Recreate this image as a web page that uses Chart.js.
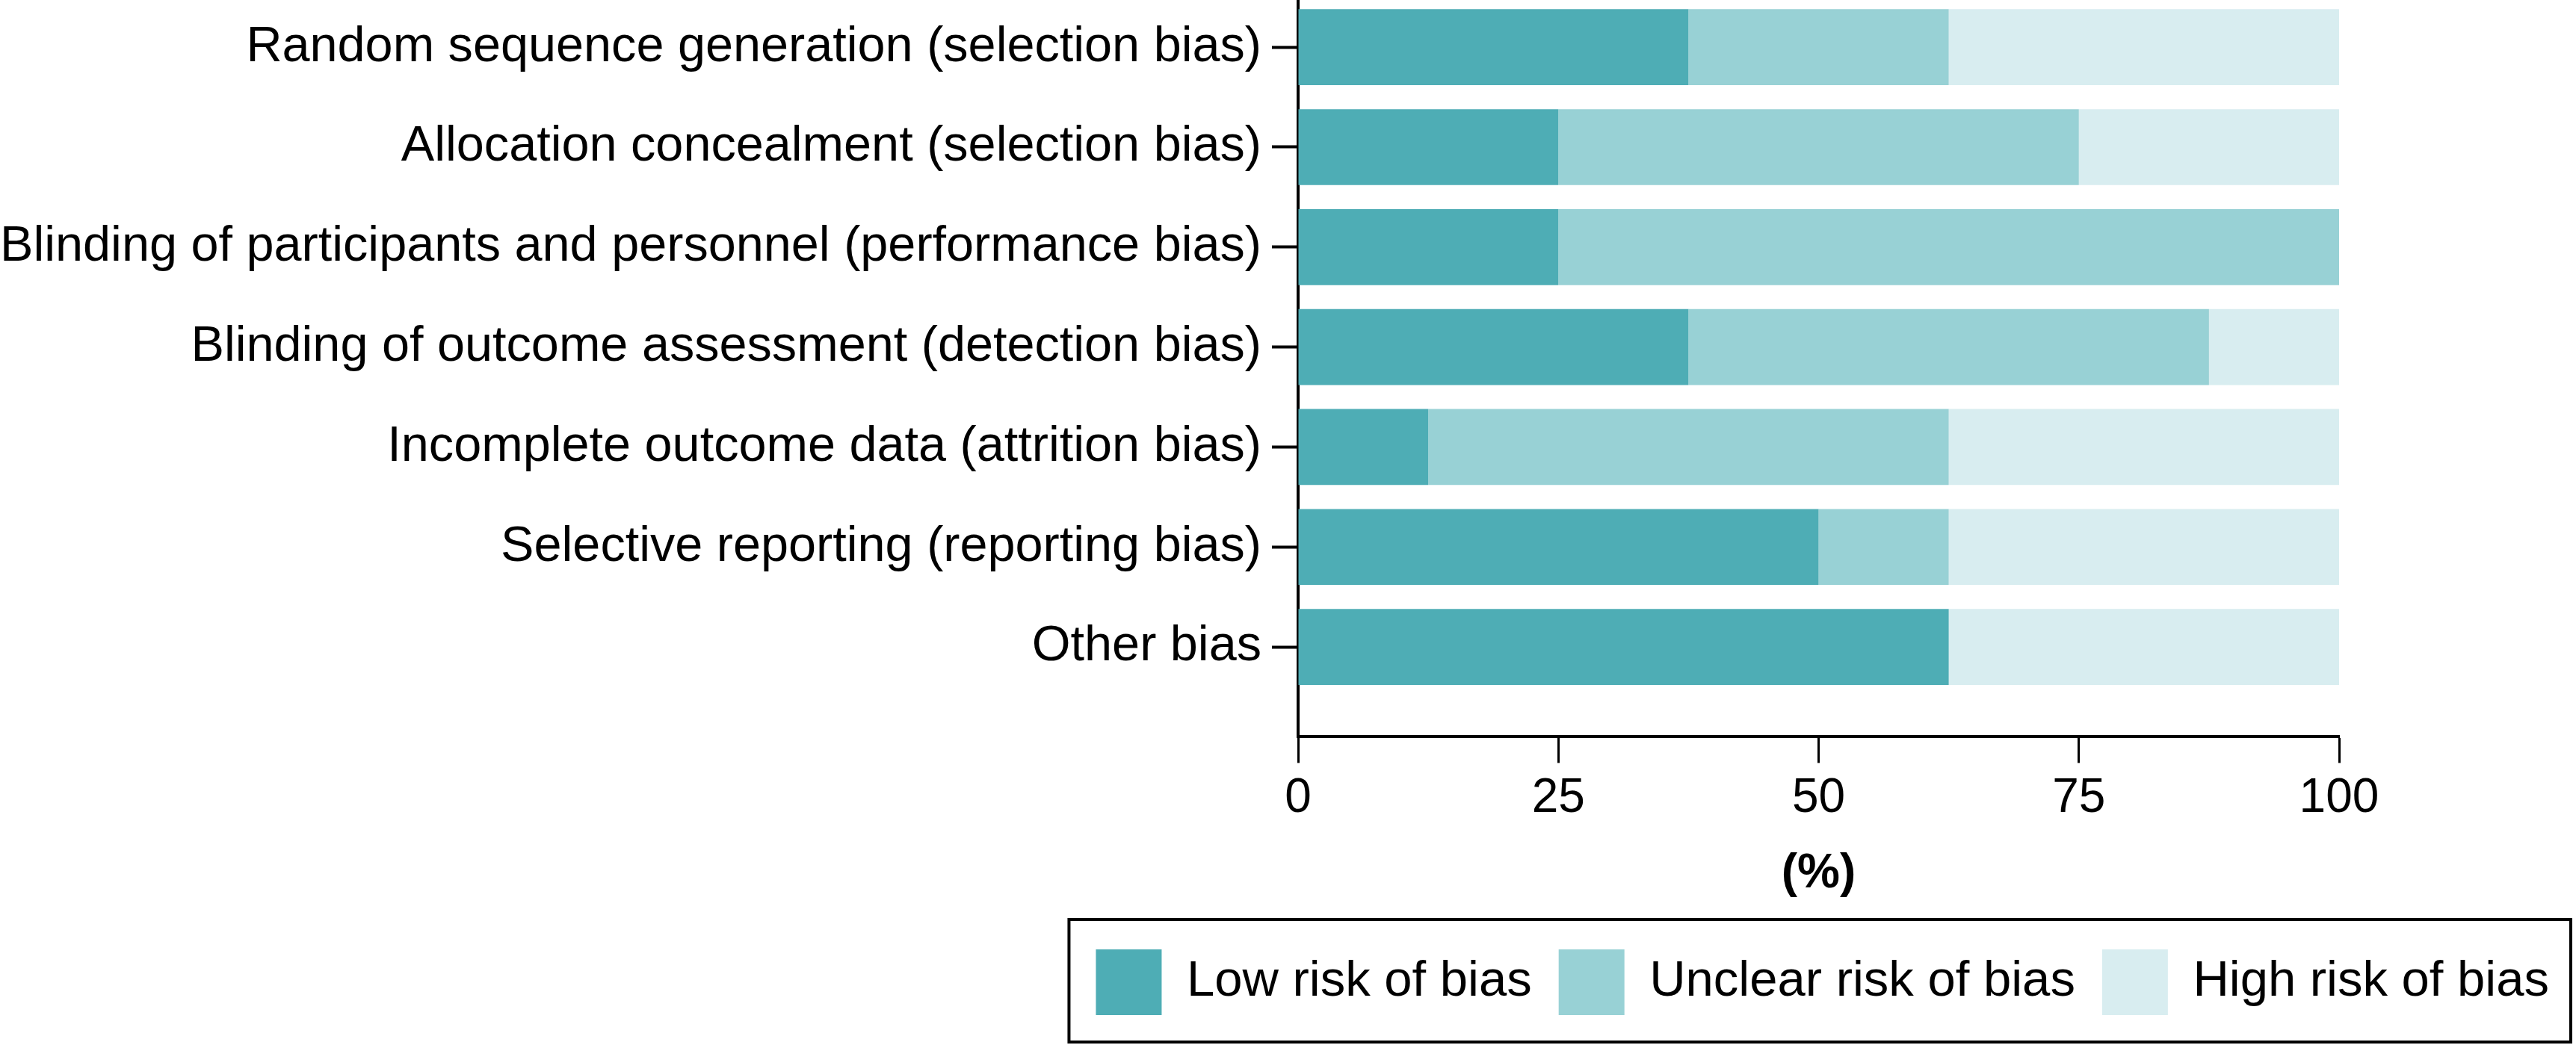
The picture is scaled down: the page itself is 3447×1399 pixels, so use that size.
<!DOCTYPE html>
<html>
<head>
<meta charset="utf-8">
<script src="https://cdn.jsdelivr.net/npm/chart.js@4"></script>
<style>
  html, body { margin: 0; padding: 0; background: #fff; }
  #wrap { width: 3447px; height: 1399px; }
</style>
</head>
<body>
<div id="wrap"><canvas id="chart" width="3447" height="1399"></canvas></div>
<script>
// risk of bias domains, top to bottom
let domains = [
  "Random sequence generation (selection bias)",
  "Allocation concealment (selection bias)",
  "Blinding of participants and personnel (performance bias)",
  "Blinding of outcome assessment (detection bias)",
  "Incomplete outcome data (attrition bias)",
  "Selective reporting (reporting bias)",
  "Other bias",
];
// percentages per domain
let lowRisk = [37.5, 25, 25, 37.5, 12.5, 50, 62.5];
let unclearRisk = [25, 50, 75, 50, 50, 12.5, 0];
let highRisk = [37.5, 25, 0, 12.5, 37.5, 37.5, 37.5];
let xTicks = [0, 25, 50, 75, 100];

let labelFont = { family: "'Liberation Sans', Arial, sans-serif", size: 66.6 };
let tickFont = { family: "'Liberation Sans', Arial, sans-serif", size: 64 };
let legendFont = { family: "'Liberation Sans', Arial, sans-serif", size: 67 };

function toPoints(values) {
  return values.map((v, i) => ({ x: v, y: i }));
}

// frame round the legend
let legendBorder = {
  id: "legendBorder",
  afterDraw(chart) {
    let boxes = chart.legend.legendHitBoxes;
    if (!boxes || !boxes.length) return;
    let first = boxes[0];
    let last = boxes[boxes.length - 1];
    let left = first.left - 36;
    let right = last.left + last.width + 29;
    let top = first.top - 40;
    let ctx = chart.ctx;
    ctx.save();
    ctx.strokeStyle = "#000";
    ctx.lineWidth = 4;
    ctx.strokeRect(left, top, right - left, 164);
    ctx.restore();
  },
};

let chart = new Chart(document.getElementById("chart"), {
  type: "bar",
  data: {
    datasets: [
      { label: "Low risk of bias", data: toPoints(lowRisk), backgroundColor: "#4eadb5" },
      { label: "Unclear risk of bias", data: toPoints(unclearRisk), backgroundColor: "#98d1d5" },
      { label: "High risk of bias", data: toPoints(highRisk), backgroundColor: "#d8edf0" },
    ],
  },
  plugins: [legendBorder],
  options: {
    indexAxis: "y",
    responsive: false,
    animation: false,
    devicePixelRatio: 1,
    layout: { padding: { top: 0, left: 0, right: 0, bottom: 30 } },
    datasets: { bar: { categoryPercentage: 1, barPercentage: 0.76, borderWidth: 0 } },
    scales: {
      x: {
        type: "linear",
        stacked: true,
        min: 0,
        max: 100,
        afterBuildTicks: (axis) => {
          axis.ticks = xTicks.map((v) => ({ value: v }));
        },
        afterFit: (axis) => {
          axis.paddingRight = 317;
        },
        grid: { drawOnChartArea: false, drawTicks: true, tickLength: 35, tickWidth: 3, tickColor: "#000" },
        border: { display: true, width: 4, color: "#000" },
        ticks: { font: tickFont, color: "#000", padding: 10, maxRotation: 0 },
        title: {
          display: true,
          text: "(%)",
          color: "#000",
          font: { family: "'Liberation Sans', Arial, sans-serif", size: 64, weight: "bold" },
          padding: { top: 14, bottom: 26 },
        },
      },
      y: {
        type: "linear",
        stacked: true,
        reverse: true,
        offset: false,
        min: -0.472,
        max: 6.899,
        afterBuildTicks: (axis) => {
          axis.ticks = domains.map((_, i) => ({ value: i }));
        },
        afterFit: (axis) => {
          // labels are wider than half the canvas
          axis.width = 1737;
          axis.paddingTop = 0;
          axis.paddingBottom = 0;
        },
        grid: { offset: false, drawOnChartArea: false, drawTicks: true, tickLength: 35, tickWidth: 4, tickColor: "#000" },
        border: { display: true, width: 4, color: "#000" },
        ticks: {
          font: labelFont,
          color: "#000",
          padding: 14,
          autoSkip: false,
          callback: (value) => domains[value],
        },
      },
    },
    plugins: {
      legend: {
        display: true,
        position: "bottom",
        align: "end",
        labels: {
          boxWidth: 88,
          boxHeight: 88,
          padding: 36,
          color: "#000",
          font: legendFont,
        },
      },
      tooltip: { enabled: false },
    },
  },
});
</script>
</body>
</html>
